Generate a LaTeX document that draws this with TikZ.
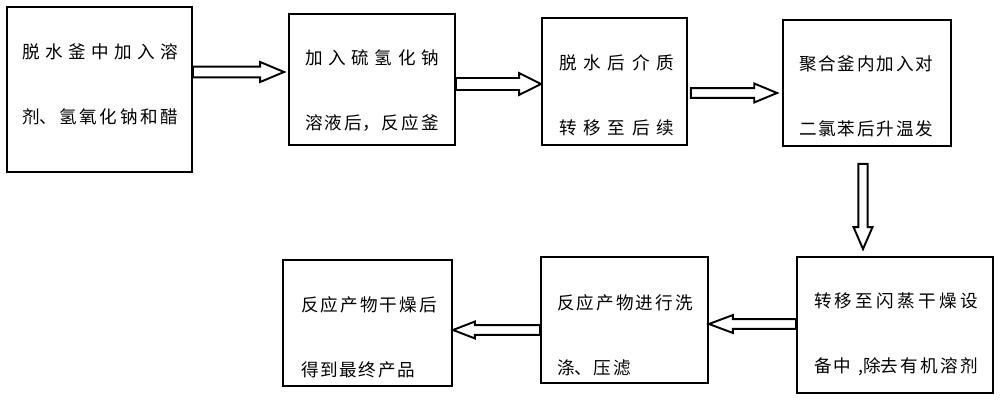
\documentclass[tikz,border=0pt]{standalone}
\usepackage{fontspec}
\newfontfamily\cjk{Noto Sans CJK SC}
\usetikzlibrary{calc}
\XeTeXlinebreaklocale "zh"
\XeTeXlinebreakskip=1pt plus 5pt minus 1pt
\newcommand\fulllast{\parfillskip=0pt\relax\par}

\begin{document}
\begin{tikzpicture}[
  x = 0.02cm, y = -0.02cm,
  box/.style = {rectangle, draw, line width=1.1pt, inner sep=0pt},
  txt/.style = {inner sep=0pt, align=justify,
                font=\cjk\fontsize{10pt}{36.8pt}\selectfont},
  fat/.style n args = {3}{draw, line width=1.1pt, line join=miter,
    to path={($(\tikztostart)!#1!90:(\tikztotarget)$)
      -- ($(\tikztotarget)!#3!(\tikztostart)!#1!90:(\tikztotarget)$)
      -- ($(\tikztotarget)!#3!(\tikztostart)!#2!90:(\tikztotarget)$)
      -- (\tikztotarget)
      -- ($(\tikztotarget)!#3!(\tikztostart)!#2!-90:(\tikztotarget)$)
      -- ($(\tikztotarget)!#3!(\tikztostart)!#1!-90:(\tikztotarget)$)
      -- ($(\tikztostart)!#1!-90:(\tikztotarget)$) -- cycle}}
]
\useasboundingbox (0,0) rectangle (1000,401);

% ───────── top row ─────────
\node[box, minimum width=3.70cm, minimum height=3.30cm] (dehyd)    at (99.5,89.5) {};
\node[box, minimum width=3.32cm, minimum height=2.62cm] (nahs)     at (372,79.5)  {};
\node[box, minimum width=2.90cm, minimum height=2.54cm] (transfer) at (614.5,81.5) {};
\node[box, minimum width=3.36cm, minimum height=2.52cm] (poly)     at (867,83)    {};

\node[txt, text width=3.12cm] (dehyd-t)    at (100,84.5)   {脱水釜中加入溶\linebreak 剂、氢氧化钠和醋\fulllast};
\node[txt, text width=2.68cm] (nahs-t)     at (372,90.5)   {加入硫氢化钠\linebreak 溶液后，反应釜\fulllast};
\node[txt, text width=2.30cm] (transfer-t) at (616.5,95.5) {脱水后介质\linebreak 转移至后续\fulllast};
\node[txt, text width=2.68cm] (poly-t)     at (866,96.5)   {聚合釜内加入对\linebreak 二氯苯后升温发\fulllast};

% ───────── bottom row ─────────
\node[box, minimum width=3.92cm, minimum height=2.72cm] (flash) at (895,325)   {};
\node[box, minimum width=3.34cm, minimum height=2.52cm] (wash)  at (624.5,320) {};
\node[box, minimum width=3.38cm, minimum height=2.52cm] (dry)   at (367.5,323) {};

\node[txt, text width=3.28cm] (flash-t) at (896,334.5) {转移至闪蒸干燥设\linebreak 备中\hspace{4pt}\mbox{,除}去有机溶剂\fulllast};
\node[txt, text width=2.72cm] (wash-t)  at (625,335)   {反应产物进行洗\linebreak 涤、压滤};
\node[txt, text width=2.72cm] (dry-t)   at (369,337.5) {反应产物干燥后\linebreak 得到最终产品};

% ───────── arrow ends ──────
\coordinate (a1s) at ([yshift=.35cm]dehyd.east);
\coordinate (a1e) at ([xshift=-.08cm, yshift=.15cm]nahs.west);
\coordinate (a2s) at ([yshift=-.09cm]nahs.east);
\coordinate (a2e) at ([yshift=-.05cm]transfer.west);
\coordinate (a3s) at ([xshift=.06cm, yshift=-.23cm]transfer.east);
\coordinate (a3e) at ([xshift=-.10cm, yshift=-.20cm]poly.west);
\coordinate (a4s) at ([xshift=-.08cm, yshift=-.34cm]poly.south);
\coordinate (a4e) at ([xshift=-.64cm, yshift=.14cm]flash.north);
\coordinate (a5s) at ([yshift=.02cm]flash.west);
\coordinate (a5e) at ([yshift=-.08cm]wash.east);
\coordinate (a6s) at ([yshift=-.20cm]wash.west);
\coordinate (a6e) at ([yshift=-.14cm]dry.east);

% ───────── arrows ──────────
\draw[fat={3.1pt}{5.7pt}{13.6pt}] (a1s) to (a1e);
\draw[fat={3.4pt}{6.2pt}{12.5pt}] (a2s) to (a2e);
\draw[fat={2.8pt}{5.4pt}{13pt}]   (a3s) to (a3e);
\draw[fat={2.6pt}{5.4pt}{12.5pt}] (a4s) to (a4e);
\draw[fat={2.8pt}{5.1pt}{13.6pt}] (a5s) to (a5e);
\draw[fat={2.8pt}{4.8pt}{12.5pt}] (a6s) to (a6e);
\end{tikzpicture}
\end{document}
